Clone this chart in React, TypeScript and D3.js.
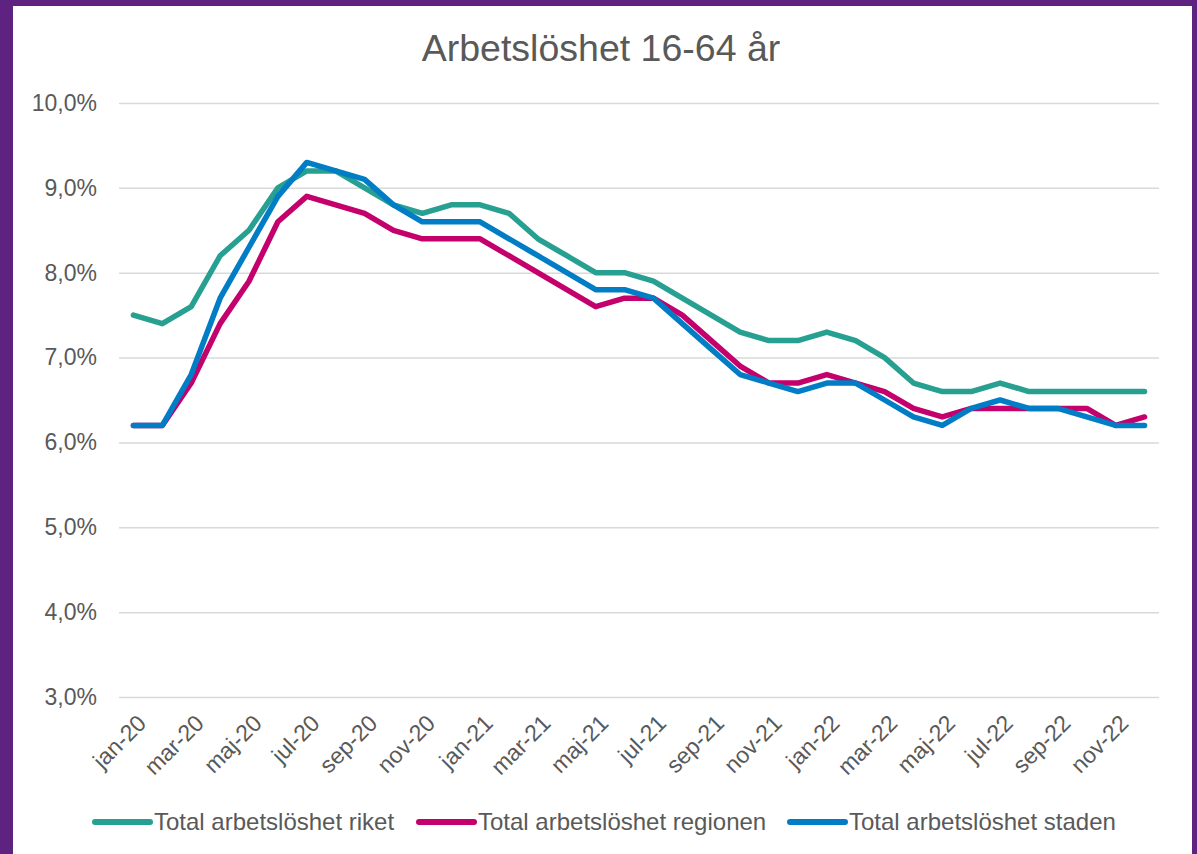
import { useEffect, useRef } from "react";
import * as d3 from "d3";

const months = ["jan", "feb", "mar", "apr", "maj", "jun", "jul", "aug", "sep", "okt", "nov", "dec"];
const years = ["20", "21", "22"];
const categories = years.flatMap((y) => months.map((m) => `${m}-${y}`));

const riket = [
  7.5, 7.4, 7.6, 8.2, 8.5, 9.0, 9.2, 9.2, 9.0, 8.8, 8.7, 8.8,
  8.8, 8.7, 8.4, 8.2, 8.0, 8.0, 7.9, 7.7, 7.5, 7.3, 7.2, 7.2,
  7.3, 7.2, 7.0, 6.7, 6.6, 6.6, 6.7, 6.6, 6.6, 6.6, 6.6, 6.6,
];
const regionen = [
  6.2, 6.2, 6.7, 7.4, 7.9, 8.6, 8.9, 8.8, 8.7, 8.5, 8.4, 8.4,
  8.4, 8.2, 8.0, 7.8, 7.6, 7.7, 7.7, 7.5, 7.2, 6.9, 6.7, 6.7,
  6.8, 6.7, 6.6, 6.4, 6.3, 6.4, 6.4, 6.4, 6.4, 6.4, 6.2, 6.3,
];
const staden = [
  6.2, 6.2, 6.8, 7.7, 8.3, 8.9, 9.3, 9.2, 9.1, 8.8, 8.6, 8.6,
  8.6, 8.4, 8.2, 8.0, 7.8, 7.8, 7.7, 7.4, 7.1, 6.8, 6.7, 6.6,
  6.7, 6.7, 6.5, 6.3, 6.2, 6.4, 6.5, 6.4, 6.4, 6.3, 6.2, 6.2,
];
const seriesNames = [
  "Total arbetslöshet riket",
  "Total arbetslöshet regionen",
  "Total arbetslöshet staden",
];
const yTicks = [3, 4, 5, 6, 7, 8, 9, 10];

const colors = ["#27A092", "#C4006C", "#007DC4"];
const font = "'Liberation Sans', Arial, sans-serif";
const textColor = "#595959";

export default function App() {
  const ref = useRef<SVGSVGElement>(null);

  useEffect(() => {
    const svg = d3.select(ref.current);
    svg.selectAll("*").remove();
    const W = 1197;
    const H = 854;

    // frame
    svg.append("rect").attr("width", W).attr("height", H).attr("fill", "#5E2281");
    svg.append("rect").attr("x", 13).attr("y", 6).attr("width", 1179).attr("height", H).attr("fill", "#fff");

    const x = d3.scalePoint<string>().domain(categories).range([119, 1159]).padding(0.5);
    const y = d3.scaleLinear().domain([3, 10]).range([697, 103]);

    svg
      .append("text")
      .attr("x", 601)
      .attr("y", 61)
      .attr("text-anchor", "middle")
      .style("font-family", font)
      .style("font-size", "37.5px")
      .style("fill", textColor)
      .text("Arbetslöshet 16-64 år");

    const yAxis = svg
      .append("g")
      .attr("transform", "translate(119,0)")
      .call(
        d3
          .axisLeft(y)
          .tickValues(yTicks)
          .tickSize(-1040)
          .tickPadding(22)
          .tickFormat((d) => d3.format(".1f")(d as number).replace(".", ",") + "%")
      );
    yAxis.select(".domain").remove();
    yAxis.selectAll("line").attr("stroke", "#D9D9D9").attr("stroke-width", 1.5);
    yAxis
      .selectAll("text")
      .style("font-family", font)
      .style("font-size", "23px")
      .style("fill", textColor);

    const xAxis = svg
      .append("g")
      .attr("transform", "translate(0,697)")
      .call(
        d3
          .axisBottom(x)
          .tickValues(categories.filter((_, i) => i % 2 === 0))
          .tickSize(0)
      );
    xAxis.select(".domain").remove();
    xAxis
      .selectAll("text")
      .attr("y", 0)
      .attr("x", 0)
      .attr("dy", "0.35em")
      .attr("transform", "translate(8,22) rotate(-45)")
      .style("text-anchor", "end")
      .style("font-family", font)
      .style("font-size", "23px")
      .style("fill", textColor);

    const line = d3
      .line<number>()
      .x((_, i) => x(categories[i]) as number)
      .y((d) => y(d));

    [riket, regionen, staden].forEach((s, i) => {
      svg
        .append("path")
        .datum(s)
        .attr("fill", "none")
        .attr("stroke", colors[i])
        .attr("stroke-width", 5.5)
        .attr("stroke-linejoin", "round")
        .attr("stroke-linecap", "round")
        .attr("d", line);
    });

    // legend
    const legendX = [95, 419, 790];
    seriesNames.forEach((name, i) => {
      const g = svg.append("g").attr("transform", `translate(${legendX[i]},822)`);
      g.append("line")
        .attr("x1", 0)
        .attr("x2", 55)
        .attr("stroke", colors[i])
        .attr("stroke-width", 6)
        .attr("stroke-linecap", "round");
      g.append("text")
        .attr("x", 59)
        .attr("dy", "0.35em")
        .style("font-family", font)
        .style("font-size", "24px")
        .style("fill", textColor)
        .text(name);
    });
  }, []);

  return (
    <svg
      ref={ref}
      width={1197}
      height={854}
      style={{ position: "absolute", left: 0, top: 0 }}
    />
  );
}
